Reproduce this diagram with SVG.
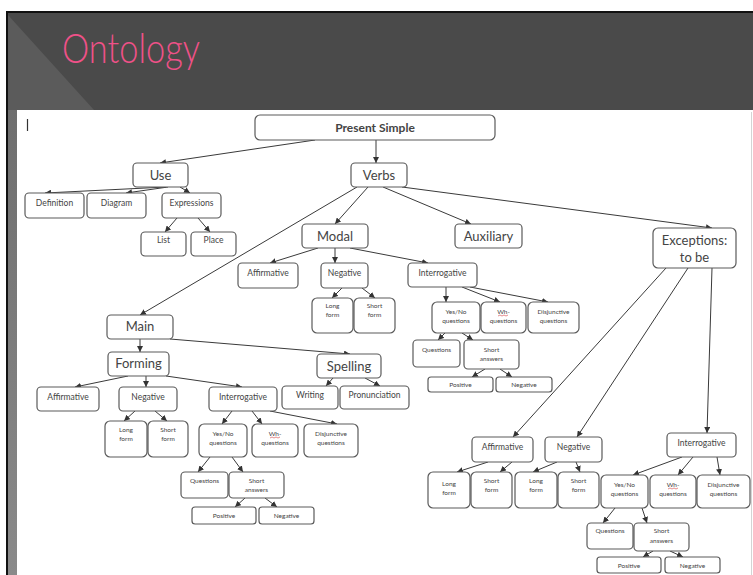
<svg xmlns="http://www.w3.org/2000/svg" width="753" height="575" viewBox="0 0 753 575">
  <defs>
    <marker id="arr" markerUnits="userSpaceOnUse" markerWidth="7" markerHeight="6" refX="6" refY="3" orient="auto">
      <path d="M0,0 L6,3 L0,6 z" fill="#333"/>
    </marker>
    <linearGradient id="strip" x1="0" y1="0" x2="0" y2="1">
      <stop offset="0" stop-color="#6e6e6e"/>
      <stop offset="1" stop-color="#8a8a8a"/>
    </linearGradient>
    <style>
      .n rect { fill: #fff; stroke: #5a5a5a; stroke-width: 1.2; }
      .n text { font-family: Lato, "Liberation Sans", sans-serif; fill: #444; text-anchor: middle; }
      .L text { font-size: 13px; }
      .M text { font-size: 8.5px; }
      .S text { font-size: 6.5px; }
      .wh { fill: #c0504d; }
      .sq { stroke: #d04040; stroke-width: 0.6; fill: none; }
      #edges line { stroke: #3a3a3a; stroke-width: 1; marker-end: url(#arr); }
    </style>
  </defs>

  <!-- slide frame -->
  <rect x="0" y="0" width="753" height="575" fill="#fff"/>
  <rect x="6" y="11" width="747" height="564" fill="#111"/>
  <rect x="8" y="13" width="745" height="97" fill="#4a4a4a"/>
  <polygon points="8,15 94,110 8,110" fill="#5b5b5b"/>
  <rect x="8" y="110" width="9" height="465" fill="url(#strip)"/>
  <rect x="17" y="110" width="736" height="465" fill="#fff"/>
  <line x1="751.5" y1="112" x2="751.5" y2="575" stroke="#d4d4d4" stroke-width="1"/>
  <text x="62" y="63" font-family="Lato, 'Liberation Sans', sans-serif" font-size="41" font-weight="300" fill="#ef5188" textLength="138" lengthAdjust="spacingAndGlyphs">Ontology</text>
  <line x1="27.5" y1="119" x2="27.5" y2="131" stroke="#333" stroke-width="1.2"/>

  <!-- connectors -->
  <g id="edges">
    <line x1="315" y1="140" x2="160" y2="163"/>
    <line x1="376" y1="140" x2="376" y2="163"/>
    <line x1="166" y1="187" x2="45" y2="193"/>
    <line x1="168" y1="187" x2="126" y2="193"/>
    <line x1="180" y1="187" x2="190" y2="193"/>
    <line x1="177" y1="218" x2="165" y2="232"/>
    <line x1="198" y1="218" x2="210" y2="232"/>
    <line x1="357" y1="187" x2="140" y2="315"/>
    <line x1="368" y1="187" x2="335" y2="224"/>
    <line x1="383" y1="187" x2="471" y2="224"/>
    <line x1="402" y1="187" x2="712" y2="228"/>
    <line x1="318" y1="248" x2="270" y2="263"/>
    <line x1="335" y1="248" x2="335" y2="263"/>
    <line x1="350" y1="248" x2="428" y2="263"/>
    <line x1="342" y1="288" x2="332" y2="298"/>
    <line x1="362" y1="288" x2="375" y2="298"/>
    <line x1="446" y1="287" x2="446" y2="302"/>
    <line x1="462" y1="287" x2="500" y2="302"/>
    <line x1="470" y1="287" x2="548" y2="302"/>
    <line x1="445" y1="333" x2="438" y2="340"/>
    <line x1="462" y1="333" x2="473" y2="340"/>
    <line x1="485" y1="369" x2="472" y2="377"/>
    <line x1="500" y1="369" x2="512" y2="377"/>
    <line x1="140" y1="339" x2="140" y2="352"/>
    <line x1="170" y1="339" x2="350" y2="354"/>
    <line x1="128" y1="376" x2="75" y2="387"/>
    <line x1="146" y1="376" x2="146" y2="387"/>
    <line x1="166" y1="376" x2="242" y2="387"/>
    <line x1="333" y1="378" x2="326" y2="386"/>
    <line x1="365" y1="378" x2="380" y2="386"/>
    <line x1="135" y1="411" x2="124" y2="421"/>
    <line x1="155" y1="411" x2="167" y2="421"/>
    <line x1="232" y1="411" x2="222" y2="424"/>
    <line x1="252" y1="411" x2="262" y2="424"/>
    <line x1="270" y1="411" x2="337" y2="424"/>
    <line x1="210" y1="457" x2="198" y2="472"/>
    <line x1="232" y1="457" x2="243" y2="472"/>
    <line x1="245" y1="498" x2="235" y2="507"/>
    <line x1="265" y1="498" x2="277" y2="507"/>
    <line x1="666" y1="268" x2="513" y2="437"/>
    <line x1="688" y1="268" x2="577" y2="437"/>
    <line x1="712" y1="268" x2="707" y2="433"/>
    <line x1="488" y1="462" x2="457" y2="472"/>
    <line x1="512" y1="462" x2="500" y2="472"/>
    <line x1="557" y1="462" x2="533" y2="472"/>
    <line x1="576" y1="462" x2="580" y2="472"/>
    <line x1="682" y1="457" x2="633" y2="475"/>
    <line x1="693" y1="457" x2="678" y2="475"/>
    <line x1="717" y1="457" x2="720" y2="475"/>
    <line x1="615" y1="508" x2="603" y2="523"/>
    <line x1="642" y1="508" x2="647" y2="523"/>
    <line x1="653" y1="551" x2="643" y2="557"/>
    <line x1="670" y1="551" x2="683" y2="557"/>
  </g>

  <!-- root -->
  <g id="present-simple" class="n"><rect x="255" y="115" width="240" height="25" rx="5"/><text x="375" y="132" font-size="12" font-weight="bold" fill="#1e1e1e">Present Simple</text></g>

  <!-- Use branch -->
  <g id="use" class="n L"><rect x="133" y="163" width="55" height="24" rx="4"/><text x="160.5" y="180">Use</text></g>
  <g id="definition" class="n M"><rect x="25" y="193" width="59" height="25" rx="4"/><text x="54.5" y="206">Definition</text></g>
  <g id="diagram" class="n M"><rect x="87" y="193" width="59" height="25" rx="4"/><text x="116.5" y="206">Diagram</text></g>
  <g id="expressions" class="n M"><rect x="162" y="193" width="59" height="25" rx="4"/><text x="191.5" y="206">Expressions</text></g>
  <g id="list" class="n M"><rect x="141" y="232" width="45" height="24" rx="4"/><text x="163.5" y="243">List</text></g>
  <g id="place" class="n M"><rect x="191" y="232" width="45" height="24" rx="4"/><text x="213.5" y="243">Place</text></g>

  <!-- Verbs branch -->
  <g id="verbs" class="n L"><rect x="351" y="163" width="56" height="24" rx="4"/><text x="379" y="180">Verbs</text></g>
  <g id="modal" class="n L"><rect x="302" y="224" width="66" height="24" rx="4"/><text x="335" y="241">Modal</text></g>
  <g id="auxiliary" class="n L"><rect x="455" y="224" width="67" height="24" rx="4"/><text x="488.5" y="241">Auxiliary</text></g>
  <g id="exceptions" class="n L"><rect x="653" y="228" width="83" height="40" rx="5"/><text x="694.5" y="245">Exceptions:</text><text x="694.5" y="262">to be</text></g>

  <!-- Modal children -->
  <g id="modal-affirmative" class="n M"><rect x="238" y="263" width="60" height="25" rx="4"/><text x="268" y="276">Affirmative</text></g>
  <g id="modal-negative" class="n M"><rect x="321" y="263" width="47" height="25" rx="4"/><text x="344.5" y="276">Negative</text></g>
  <g id="modal-long" class="n S"><rect x="312" y="298" width="41" height="35" rx="5"/><text x="332.5" y="308">Long</text><text x="332.5" y="317">form</text></g>
  <g id="modal-short" class="n S"><rect x="354" y="298" width="41" height="35" rx="5"/><text x="374.5" y="308">Short</text><text x="374.5" y="317">form</text></g>
  <g id="modal-interrogative" class="n M"><rect x="408" y="263" width="69" height="24" rx="4"/><text x="442.5" y="276">Interrogative</text></g>
  <g id="modal-yesno" class="n S"><rect x="432" y="302" width="48" height="31" rx="5"/><text x="456" y="314">Yes/No</text><text x="456" y="323">questions</text></g>
  <g id="modal-wh" class="n S"><rect x="481" y="302" width="45" height="31" rx="5"/><text x="503.5" y="314" class="wh">Wh-</text><path class="sq" d="M498,316 l2,-1 l2,1 l2,-1 l2,1 l2,-1"/><text x="503.5" y="323">questions</text></g>
  <g id="modal-disjunctive" class="n S"><rect x="528" y="302" width="51" height="31" rx="5"/><text x="553.5" y="314">Disjunctive</text><text x="553.5" y="323">questions</text></g>
  <g id="modal-questions" class="n S"><rect x="413" y="340" width="47" height="27" rx="4"/><text x="436.5" y="352">Questions</text></g>
  <g id="modal-short-answers" class="n S"><rect x="464" y="340" width="55" height="29" rx="4"/><text x="491.5" y="352">Short</text><text x="491.5" y="361">answers</text></g>
  <g id="modal-positive" class="n S"><rect x="428" y="377" width="65" height="15" rx="3"/><text x="460.5" y="387">Positive</text></g>
  <g id="modal-negative-answer" class="n S"><rect x="496" y="377" width="56" height="15" rx="3"/><text x="524" y="387">Negative</text></g>

  <!-- Main branch -->
  <g id="main" class="n L"><rect x="107" y="315" width="66" height="24" rx="4"/><text x="140" y="331">Main</text></g>
  <g id="forming" class="n L"><rect x="108" y="352" width="61" height="24" rx="4"/><text x="138.5" y="368">Forming</text></g>
  <g id="spelling" class="n L"><rect x="317" y="354" width="64" height="24" rx="4"/><text x="349" y="371">Spelling</text></g>
  <g id="writing" class="n M"><rect x="282" y="386" width="56" height="23" rx="4"/><text x="310" y="398">Writing</text></g>
  <g id="pronunciation" class="n M"><rect x="340" y="386" width="69" height="23" rx="4"/><text x="374.5" y="398">Pronunciation</text></g>
  <g id="forming-affirmative" class="n M"><rect x="37" y="387" width="62" height="24" rx="4"/><text x="68" y="400">Affirmative</text></g>
  <g id="forming-negative" class="n M"><rect x="119" y="387" width="58" height="24" rx="4"/><text x="148" y="400">Negative</text></g>
  <g id="forming-interrogative" class="n M"><rect x="209" y="387" width="68" height="24" rx="4"/><text x="243" y="400">Interrogative</text></g>
  <g id="forming-long" class="n S"><rect x="105" y="421" width="42" height="36" rx="5"/><text x="126" y="432">Long</text><text x="126" y="441">form</text></g>
  <g id="forming-short" class="n S"><rect x="148" y="421" width="40" height="36" rx="5"/><text x="168" y="432">Short</text><text x="168" y="441">form</text></g>
  <g id="forming-yesno" class="n S"><rect x="199" y="424" width="48" height="33" rx="5"/><text x="223" y="436">Yes/No</text><text x="223" y="445">questions</text></g>
  <g id="forming-wh" class="n S"><rect x="252" y="424" width="46" height="33" rx="5"/><text x="275" y="436" class="wh">Wh-</text><path class="sq" d="M270,438 l2,-1 l2,1 l2,-1 l2,1 l2,-1"/><text x="275" y="445">questions</text></g>
  <g id="forming-disjunctive" class="n S"><rect x="304" y="424" width="54" height="33" rx="5"/><text x="331" y="436">Disjunctive</text><text x="331" y="445">questions</text></g>
  <g id="forming-questions" class="n S"><rect x="181" y="472" width="47" height="26" rx="4"/><text x="204.5" y="483">Questions</text></g>
  <g id="forming-short-answers" class="n S"><rect x="229" y="472" width="55" height="26" rx="4"/><text x="256.5" y="483">Short</text><text x="256.5" y="492">answers</text></g>
  <g id="forming-positive" class="n S"><rect x="192" y="507" width="64" height="17" rx="3"/><text x="224" y="518">Positive</text></g>
  <g id="forming-negative-answer" class="n S"><rect x="259" y="507" width="55" height="17" rx="3"/><text x="286.5" y="518">Negative</text></g>

  <!-- Exceptions: to be children -->
  <g id="tobe-affirmative" class="n M"><rect x="472" y="437" width="61" height="25" rx="4"/><text x="502.5" y="450" font-size="9.5">Affirmative</text></g>
  <g id="tobe-negative" class="n M"><rect x="545" y="437" width="57" height="25" rx="4"/><text x="573.5" y="450" font-size="9.5">Negative</text></g>
  <g id="tobe-interrogative" class="n M"><rect x="667" y="433" width="69" height="24" rx="4"/><text x="701.5" y="446" font-size="9.5">Interrogative</text></g>
  <g id="tobe-aff-long" class="n S"><rect x="428" y="472" width="42" height="36" rx="5"/><text x="449" y="486" font-size="9">Long</text><text x="449" y="495">form</text></g>
  <g id="tobe-aff-short" class="n S"><rect x="471" y="472" width="41" height="36" rx="5"/><text x="491.5" y="483">Short</text><text x="491.5" y="492">form</text></g>
  <g id="tobe-neg-long" class="n S"><rect x="515" y="472" width="42" height="36" rx="5"/><text x="536" y="483">Long</text><text x="536" y="492">form</text></g>
  <g id="tobe-neg-short" class="n S"><rect x="558" y="472" width="41" height="36" rx="5"/><text x="578.5" y="483">Short</text><text x="578.5" y="492">form</text></g>
  <g id="tobe-yesno" class="n S"><rect x="601" y="475" width="47" height="33" rx="5"/><text x="624.5" y="487">Yes/No</text><text x="624.5" y="496">questions</text></g>
  <g id="tobe-wh" class="n S"><rect x="650" y="475" width="46" height="33" rx="5"/><text x="673" y="487" class="wh">Wh-</text><path class="sq" d="M668,489 l2,-1 l2,1 l2,-1 l2,1 l2,-1"/><text x="673" y="496">questions</text></g>
  <g id="tobe-disjunctive" class="n S"><rect x="697" y="475" width="53" height="33" rx="5"/><text x="723.5" y="487">Disjunctive</text><text x="723.5" y="496">questions</text></g>
  <g id="tobe-questions" class="n S"><rect x="587" y="523" width="46" height="26" rx="4"/><text x="610" y="533">Questions</text></g>
  <g id="tobe-short-answers" class="n S"><rect x="634" y="523" width="55" height="28" rx="4"/><text x="661.5" y="533">Short</text><text x="661.5" y="543">answers</text></g>
  <g id="tobe-positive" class="n S"><rect x="597" y="557" width="64" height="16" rx="3"/><text x="629" y="568">Positive</text></g>
  <g id="tobe-negative-answer" class="n S"><rect x="665" y="557" width="55" height="16" rx="3"/><text x="692.5" y="568">Negative</text></g>
</svg>
